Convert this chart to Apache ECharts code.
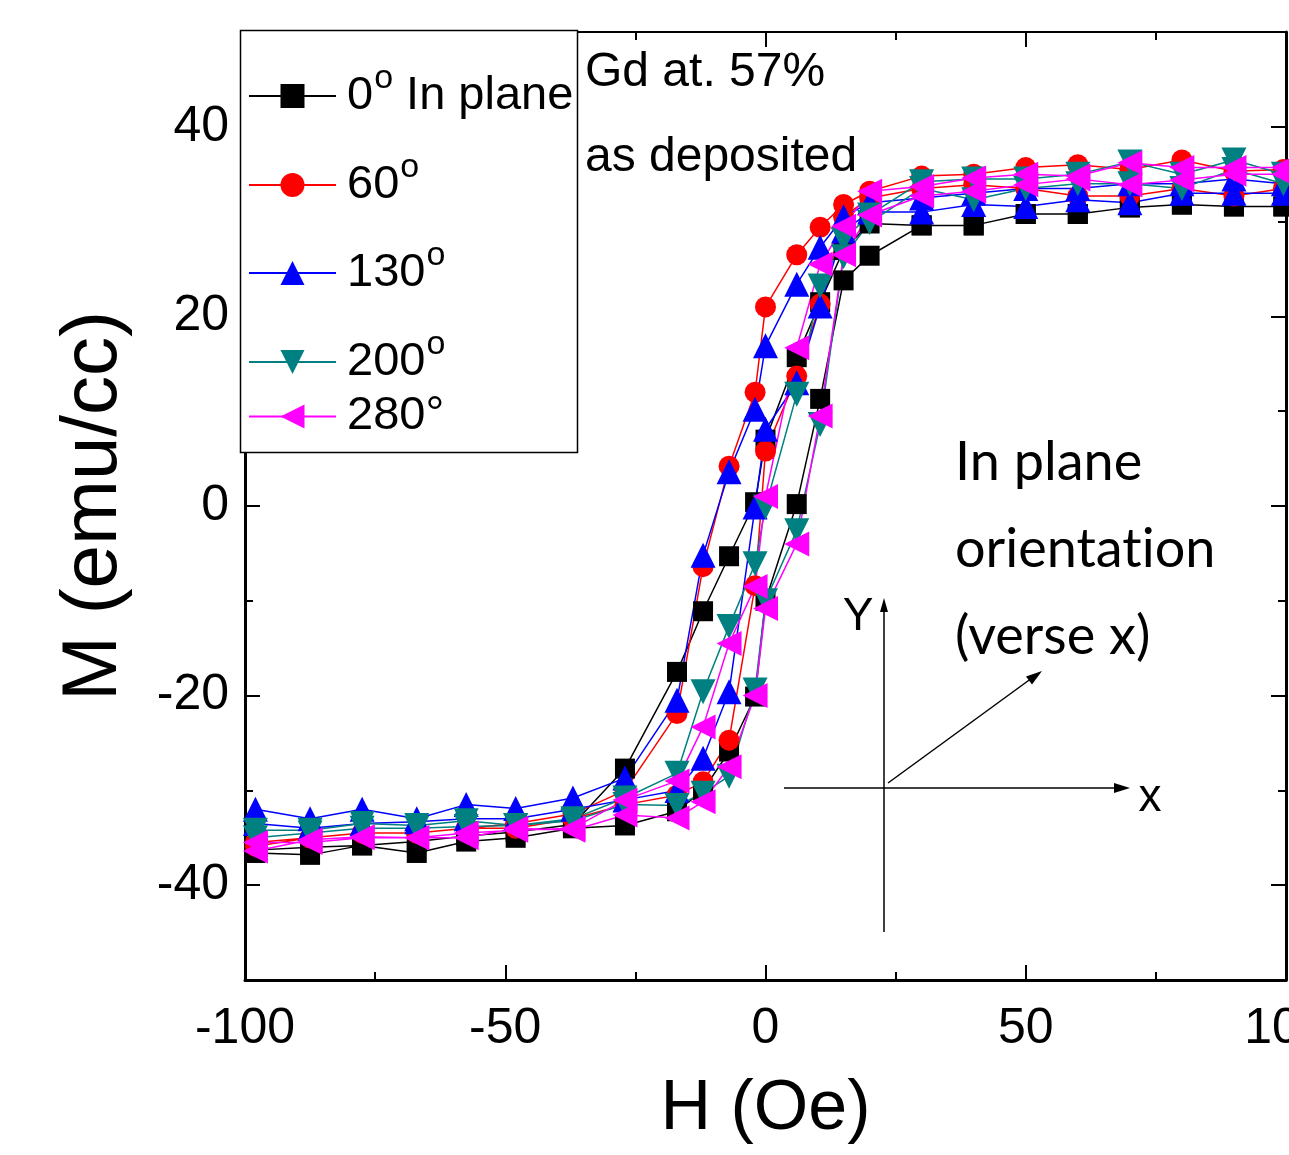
<!DOCTYPE html>
<html>
<head>
<meta charset="utf-8">
<script src="https://cdn.jsdelivr.net/npm/echarts@6/dist/echarts.min.js"></script>
<style>
  html, body { margin: 0; padding: 0; background: #fff; }
  #chart { width: 1289px; height: 1155px; }
</style>
</head>
<body>
<div id="chart"></div>
<script>
// field sweep: down from +100 to -100, then back up
const fieldDown = [99.5, 90, 80, 70, 60, 50, 40, 30, 20, 15, 10.5, 6, 0, -2, -7, -12, -17, -27, -37, -48, -57.5, -67, -77.5, -87.5, -98];
const fieldUp = [-98, -87.5, -77.5, -67, -57.5, -48, -37, -27, -17, -12, -7, -2, 0, 6, 10.5, 15, 20, 30, 40, 50, 60, 70, 80, 90, 99.5];

// M (emu/cc) for each angle
const m0Down = [31.6, 31.6, 31.8, 31.5, 30.8, 30.8, 29.6, 29.6, 29.8, 27, 21.5, 15.7, 7, 0.4, -5.3, -11.1, -17.5, -27.7, -33.6, -34.4, -34.8, -35.4, -35.8, -36, -36.3];
const m0Up = [-36.6, -36.8, -35.8, -36.6, -35.4, -35, -34, -33.7, -32.2, -30, -25.9, -20.1, -10, 0.2, 11.3, 23.8, 26.4, 29.6, 29.6, 30.8, 30.8, 31.5, 31.8, 31.6, 31.6];
const m60Down = [35.5, 35.3, 36.5, 35.5, 36, 35.7, 35, 34.8, 33.2, 31.8, 29.4, 26.5, 21, 12, 4.2, -6.4, -21.9, -30, -32.5, -33.5, -34, -34.5, -34.5, -35, -35.9];
const m60Up = [-35.5, -35, -34.5, -34.5, -34, -34, -33, -31.5, -30.5, -29.1, -24.7, -8.4, 5.8, 13.7, 21.3, 30.5, 32.5, 33.5, 33.9, 33.5, 32.7, 32.7, 33.5, 32.7, 33.5];
const m130Down = [34, 34.5, 34, 34, 33.5, 33.5, 33, 32.5, 32, 30.5, 27.3, 23.4, 16.9, 10.2, 3.6, -5.2, -20.5, -28.7, -30.8, -31.9, -31.5, -33, -32, -33, -32];
const m130Up = [-33.5, -34, -33.5, -33.3, -33, -33, -32, -31, -30, -26.6, -19.6, -0.1, 8.1, 13, 21.1, 29, 31, 31, 31.8, 31.6, 32.3, 32, 33, 33, 33];
const m200Down = [35, 36.5, 35, 36.3, 35, 34.5, 34.5, 34.2, 30.7, 28.1, 23.2, 11.8, -0.1, -6.1, -12.7, -19.6, -28.2, -30.8, -33, -33.7, -33.2, -33.7, -33.5, -34.2, -34.2];
const m200Up = [-35, -34.5, -34, -34, -33.8, -33.7, -33.2, -31.5, -31.6, -30.3, -28.5, -19.4, -10, -2.6, 8.6, 26.3, 29.9, 33.5, 32.3, 33.5, 34, 34, 33.5, 35.5, 34];
const m280Down = [35.7, 35.7, 35.7, 36.2, 34.8, 35, 34.6, 33.7, 33.2, 29.5, 25.5, 16.7, 1, -8.5, -14.5, -23.3, -29, -31, -34, -34.2, -34.5, -35, -35, -35.5, -35.5];
const m280Up = [-36.4, -35.2, -34.9, -35, -35, -34, -34.2, -32.6, -32.9, -31.2, -27.5, -20, -10.8, -4, 9.5, 26.5, 30.7, 32.7, 33.2, 33.9, 34.5, 33.9, 34.4, 35, 35];

const xTicks = [-100, -50, 0, 50, 100];
const yMajor = [-40, -20, 0, 20, 40];
const yMinor = [-30, -10, 10, 30];

const SANS = "'Liberation Sans', Arial, sans-serif";
const CALI = "Lato, 'Open Sans', sans-serif";

function loop(down, up) {
  const pts = fieldDown.map((h, i) => [h, down[i]]);
  return pts.concat(fieldUp.map((h, i) => [h, up[i]]));
}

const legendRich = {
  a: { fontSize: 47, fontFamily: SANS, color: '#000', lineHeight: 68 },
  s: { fontSize: 34, fontFamily: SANS, color: '#000', verticalAlign: 'top', lineHeight: 28, padding: [0, 0, 0, 1] }
};

const seriesDefs = [
  { name: 'a0', label: '{a|0}{s|o}{a| In plane}', color: '#000000', symbol: 'rect', size: 20, rot: 0, data: loop(m0Down, m0Up), y: 96 },
  { name: 'a60', label: '{a|60}{s|o}', color: '#ff0000', symbol: 'circle', size: 21, rot: 0, data: loop(m60Down, m60Up), y: 185 },
  { name: 'a130', label: '{a|130}{s|o}', color: '#0000ff', symbol: 'triangle', size: 25, rot: 0, data: loop(m130Down, m130Up), y: 273 },
  { name: 'a200', label: '{a|200}{s|o}', color: '#008080', symbol: 'triangle', size: 25, rot: 180, data: loop(m200Down, m200Up), y: 362 },
  { name: 'a280', label: '{a|280°}', color: '#ff00ff', symbol: 'triangle', size: 25, rot: 90, data: loop(m280Down, m280Up), y: 427 }
];

const chart = echarts.init(document.getElementById('chart'), null, { renderer: 'canvas' });

function yAxisDef(pos, values, len, showLine, showLabel) {
  return {
    type: 'value', position: pos, min: -50, max: 50,
    axisLine: { show: showLine, onZero: false, lineStyle: { color: '#000', width: 3 } },
    axisTick: { show: true, inside: true, length: len, customValues: values, lineStyle: { color: '#000', width: 2 } },
    axisLabel: { show: showLabel, customValues: values, color: '#000', fontSize: 50, fontFamily: SANS, margin: 16 },
    splitLine: { show: false },
    name: showLabel ? 'M (emu/cc)' : '',
    nameLocation: 'middle', nameGap: 112, nameRotate: 90,
    nameTextStyle: { fontSize: 78, fontFamily: SANS, color: '#000' }
  };
}

function xAxisDef(pos, showLabel, lineW) {
  return {
    type: 'value', position: pos, min: -100, max: 100, interval: 50,
    axisLine: { show: true, onZero: false, lineStyle: { color: '#000', width: lineW } },
    axisTick: { show: true, inside: true, length: 15, lineStyle: { color: '#000', width: 2 } },
    minorTick: { show: true, splitNumber: 2, length: 8, lineStyle: { color: '#000', width: 2 } },
    axisLabel: { show: showLabel, color: '#000', fontSize: 50, fontFamily: SANS, margin: 24,
      customValues: xTicks },
    splitLine: { show: false },
    name: showLabel ? 'H (Oe)' : '',
    nameLocation: 'middle', nameGap: 95,
    nameTextStyle: { fontSize: 70, fontFamily: SANS, color: '#000' }
  };
}

const option = {
  backgroundColor: '#fff',
  animation: false,
  grid: { left: 245, right: 3, top: 32, bottom: 175, containLabel: false, outerBoundsMode: 'none' },
  xAxis: [xAxisDef('bottom', true, 3), xAxisDef('top', false, 2)],
  yAxis: [
    yAxisDef('left', yMajor, 15, true, true),
    yAxisDef('left', yMinor, 8, false, false),
    yAxisDef('right', yMajor, 15, true, false),
    yAxisDef('right', yMinor, 8, false, false)
  ],
  legend: seriesDefs.map(s => ({
    data: [s.name],
    left: 248,
    top: s.y - 34,
    padding: 0,
    itemWidth: 87,
    itemHeight: 30,
    itemGap: 0,
    selectedMode: false,
    formatter: () => s.label,
    textStyle: { rich: legendRich, padding: [0, 0, 0, 6] },
    z: 10
  })),
  series: seriesDefs.map(s => ({
    name: s.name,
    type: 'line',
    data: s.data,
    symbol: s.symbol,
    symbolSize: s.size,
    symbolRotate: s.rot,
    showAllSymbol: true,
    lineStyle: { color: s.color, width: 1.5 },
    itemStyle: { color: s.color },
    emphasis: { disabled: true }
  })),
  graphic: [
    // legend frame
    { type: 'rect', z: 5, shape: { x: 240.5, y: 30.5, width: 337, height: 422 },
      style: { fill: '#fff', stroke: '#000', lineWidth: 1.5 } },
    { type: 'text', z: 6, x: 585, y: 73,
      style: { text: 'Gd at. 57%', fontSize: 48, fontFamily: SANS, fill: '#000', verticalAlign: 'middle' } },
    { type: 'text', z: 6, x: 585, y: 158,
      style: { text: 'as deposited', fontSize: 48, fontFamily: SANS, fill: '#000', verticalAlign: 'middle' } },
    { type: 'text', z: 6, x: 955, y: 463,
      style: { text: 'In plane', fontSize: 54, fontFamily: CALI, fill: '#000', verticalAlign: 'middle' } },
    { type: 'text', z: 6, x: 955, y: 550,
      style: { text: 'orientat\u200Cion', fontSize: 54, fontFamily: CALI, fill: '#000', verticalAlign: 'middle' } },
    { type: 'text', z: 6, x: 955, y: 637,
      style: { text: '(verse x)', fontSize: 54, fontFamily: CALI, fill: '#000', verticalAlign: 'middle' } },
    // axes sketch
    { type: 'line', z: 6, shape: { x1: 884, y1: 932, x2: 884, y2: 606 }, style: { stroke: '#000', lineWidth: 1.5 } },
    { type: 'polygon', z: 6, shape: { points: [[884, 598], [880, 612], [888, 612]] }, style: { fill: '#000' } },
    { type: 'line', z: 6, shape: { x1: 784, y1: 788, x2: 1118, y2: 788 }, style: { stroke: '#000', lineWidth: 1.5 } },
    { type: 'polygon', z: 6, shape: { points: [[1130, 788], [1114, 783], [1114, 793]] }, style: { fill: '#000' } },
    { type: 'line', z: 6, shape: { x1: 888, y1: 783, x2: 1032, y2: 678 }, style: { stroke: '#000', lineWidth: 1.5 } },
    { type: 'polygon', z: 6, shape: { points: [[1042, 671], [1026, 676.4], [1032, 684.4]] }, style: { fill: '#000' } },
    { type: 'text', z: 6, x: 858, y: 617,
      style: { text: 'Y', fontSize: 46, fontFamily: SANS, fill: '#000', align: 'center', verticalAlign: 'middle' } },
    { type: 'text', z: 6, x: 1150, y: 798,
      style: { text: 'x', fontSize: 46, fontFamily: SANS, fill: '#000', align: 'center', verticalAlign: 'middle' } }
  ]
};

chart.setOption(option);
</script>
</body>
</html>
